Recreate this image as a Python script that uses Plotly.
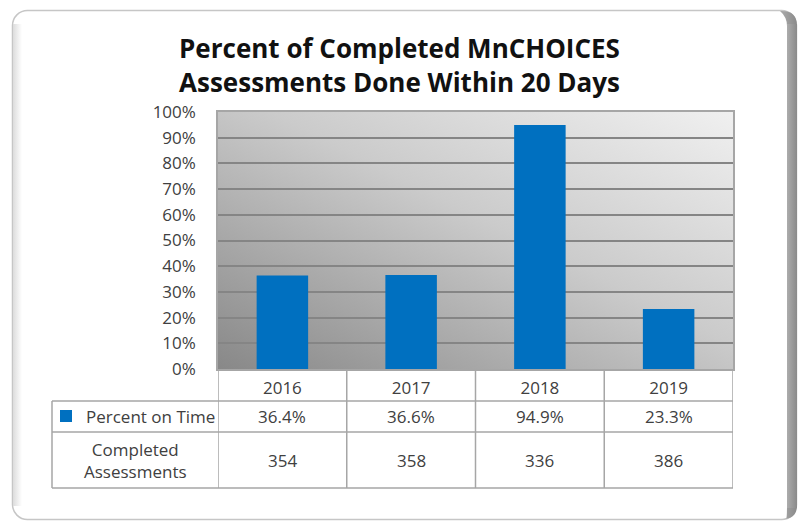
import base64
import plotly.graph_objects as go

# ---- data ----
years = ["2016", "2017", "2018", "2019"]
percent_on_time = [36.4, 36.6, 94.9, 23.3]
completed_assessments = [354, 358, 336, 386]
series_name = "Percent on Time"
row2_label = "Completed<br>Assessments"
title_text = "Percent of Completed MnCHOICES<br>Assessments Done Within 20 Days"
y_ticks = list(range(0, 101, 10))
y_ticktext = [f"{v}%" for v in y_ticks]

# ---- layout geometry (pixels) ----
W, H = 799, 523
ML, MR, MT, MB = 218, 66, 112, 154
PW, PH = W - ML - MR, H - MT - MB

def px_x(px):
    return (px - ML) / PW

def px_y(py):
    return (H - MB - py) / PH

BAR = "#0070C0"
TXT = "#404040"
GRID = "#858585"
TLINE = "#a6a6a6"
FONT = "Open Sans"
FS = 17

def svg_uri(svg):
    return "data:image/svg+xml;base64," + base64.b64encode(svg.encode()).decode()

grad_svg = (
    '<svg xmlns="http://www.w3.org/2000/svg" width="100" height="100" viewBox="0 0 100 100" preserveAspectRatio="none">'
    '<defs><linearGradient id="g" x1="0" y1="1" x2="1" y2="0">'
    '<stop offset="0" stop-color="#888888"/><stop offset="0.55" stop-color="#cbcbcb"/>'
    '<stop offset="1" stop-color="#f0f0f0"/></linearGradient></defs>'
    '<rect x="0" y="0" width="100" height="100" fill="url(#g)"/></svg>'
)

frame_svg = (
    f'<svg xmlns="http://www.w3.org/2000/svg" width="{W}" height="{H}" viewBox="0 0 {W} {H}">'
    '<defs>'
    '<linearGradient id="r" x1="0" y1="0" x2="1" y2="0"><stop offset="0" stop-color="#acacac"/><stop offset="1" stop-color="#8a8a8a"/></linearGradient>'
    '<linearGradient id="l" x1="0" y1="0" x2="1" y2="0"><stop offset="0" stop-color="#dcdcdc"/><stop offset="1" stop-color="#ffffff"/></linearGradient>'
    '</defs>'
    '<rect x="12.5" y="10.5" width="784" height="509" rx="15" ry="15" fill="#ffffff" stroke="#c6c6c6" stroke-width="1.5"/>'
    '<rect x="13" y="24" width="9" height="482" fill="url(#l)"/>'
    '<path d="M782,11 Q797,11 797,26 L797,505 Q797,519 783,519 L786,519 Q787,519 787,505 L787,26 Q787,17 780,11 Z" fill="url(#r)"/>'
    '<rect x="787" y="24" width="10" height="484" fill="url(#r)"/>'
    '</svg>'
)

fig = go.Figure()
fig.add_trace(go.Bar(
    x=years, y=percent_on_time, name=series_name,
    marker=dict(color=BAR, line=dict(width=0)), width=0.4,
    showlegend=True, hoverinfo="x+y",
))

# table rows (paper y)
row_top = [px_y(369), px_y(401), px_y(432), px_y(488)]
table_left = px_x(52)

shapes = []
for i in range(len(years) + 1):
    shapes.append(dict(type="line", xref="x", yref="paper", x0=i - 0.5, x1=i - 0.5,
                       y0=row_top[0], y1=row_top[3], line=dict(color=TLINE, width=1.5)))
for yy in row_top[1:]:
    shapes.append(dict(type="line", xref="paper", yref="paper", x0=table_left, x1=1,
                       y0=yy, y1=yy, line=dict(color=TLINE, width=1.5)))
shapes.append(dict(type="line", xref="paper", yref="paper", x0=table_left, x1=table_left,
                   y0=row_top[1], y1=row_top[3], line=dict(color=TLINE, width=1.5)))

annotations = []
mid1 = (row_top[1] + row_top[2]) / 2
mid2 = (row_top[2] + row_top[3]) / 2
for i, (p, c) in enumerate(zip(percent_on_time, completed_assessments)):
    annotations.append(dict(x=i, xref="x", y=mid1, yref="paper", text=f"{p:.1f}%",
                            xanchor="center", yanchor="middle", showarrow=False,
                            font=dict(size=FS, color=TXT, family=FONT)))
    annotations.append(dict(x=i, xref="x", y=mid2, yref="paper", text=f"{c}",
                            xanchor="center", yanchor="middle", showarrow=False,
                            font=dict(size=FS, color=TXT, family=FONT)))
annotations.append(dict(x=(table_left + 0) / 2, xref="paper", y=mid2, yref="paper",
                        text=row2_label, showarrow=False, align="center",
                        xanchor="center", yanchor="middle",
                        font=dict(size=FS, color=TXT, family=FONT)))

images = [
    dict(source=svg_uri(frame_svg), xref="paper", yref="paper",
         x=px_x(0), y=px_y(0), sizex=W / PW, sizey=H / PH,
         xanchor="left", yanchor="top", sizing="stretch", layer="below"),
    dict(source=svg_uri(grad_svg), xref="paper", yref="paper",
         x=0, y=1, sizex=1, sizey=1, xanchor="left", yanchor="top",
         sizing="stretch", layer="below"),
]

fig.update_layout(
    width=W, height=H,
    margin=dict(l=ML, r=MR, t=MT, b=MB, pad=0),
    paper_bgcolor="#ffffff", plot_bgcolor="rgba(0,0,0,0)",
    font=dict(family=FONT, color=TXT, size=FS),
    title=dict(text=f"<b>{title_text}</b>", x=0.5, xanchor="center",
               y=1 - 58 / H, yanchor="middle", yref="container",
               font=dict(size=26, color="#111111", family=FONT)),
    bargap=0.6,
    xaxis=dict(type="category", range=[-0.5, len(years) - 0.5], showgrid=False,
               showline=True, linecolor=TLINE, linewidth=1.5, mirror=True,
               ticks="", tickfont=dict(size=FS, color=TXT), ticklabelstandoff=3,
               fixedrange=True, zeroline=False),
    yaxis=dict(range=[0, 100], tickmode="array", tickvals=y_ticks, ticktext=y_ticktext,
               showgrid=True, gridcolor=GRID, gridwidth=1.5, showline=True,
               linecolor=TLINE, linewidth=1.5, mirror=True, ticks="",
               ticklabelstandoff=17, tickfont=dict(size=FS, color=TXT),
               zeroline=False, fixedrange=True),
    legend=dict(x=px_x(46), xanchor="left", y=mid1, yanchor="middle",
                bgcolor="rgba(0,0,0,0)", borderwidth=0, itemwidth=30,
                font=dict(size=FS, color=TXT, family=FONT), itemclick=False),
    shapes=shapes, annotations=annotations, images=images,
)

fig.write_html("out.html", config={"displayModeBar": False},
               post_script="document.body.style.margin='0';document.body.style.overflow='hidden';")
